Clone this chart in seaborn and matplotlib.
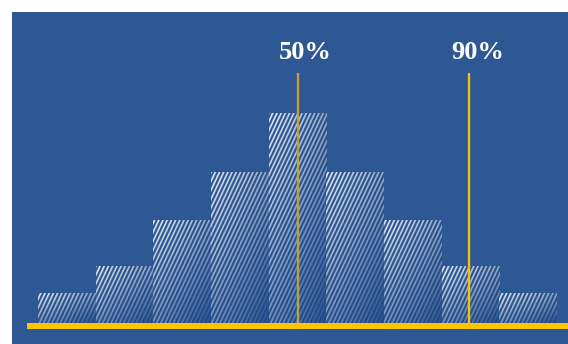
import numpy as np
import matplotlib
matplotlib.use("Agg")
import matplotlib.pyplot as plt
import seaborn as sns

# Histogram bins and their heights
bins = ["1", "2", "3", "4", "5", "6", "7", "8", "9"]
heights = [3.0, 5.7, 10.3, 15.1, 21.0, 15.1, 10.3, 5.7, 3.0]

# Percentile markers (position on the bin axis) and their labels
marker_labels = ["50%", "90%"]
marker_pos = [4.0, 6.98]
marker_top = 25.0

BLUE = np.array([0x2E, 0x58, 0x93]) / 255.0
DARK = np.array([0x16, 0x40, 0x80]) / 255.0
YELLOW = "#FFC400"
LINE_COLORS = ["#BFA03A", "#F7C000"]

sns.set_style("white")

W, H, DPI = 568, 344, 100
fig = plt.figure(figsize=(W / DPI, H / DPI), dpi=DPI, facecolor="white")
ax = fig.add_axes([12 / W, 0, (W - 12) / W, (H - 12) / H])
ax.set_facecolor(BLUE)

sns.barplot(x=bins, y=heights, width=1.0, color="white", saturation=1,
            ax=ax, zorder=2)

XLIM = (-0.951, 8.69)
YLIM = (-2.13, 31.07)
ax.set_xlim(*XLIM)
ax.set_ylim(*YLIM)

# Hatched, fading texture inside each bar
period, slope = 4.2, 0.47
for patch in list(ax.patches):
    patch.set_facecolor("none")
    patch.set_edgecolor("none")
    x0, w, h = patch.get_x(), patch.get_width(), patch.get_height()
    (px0, py0), (px1, py1) = ax.transData.transform([(x0, 0), (x0 + w, h)])
    nw = max(int(round(px1 - px0)), 1)
    nh = max(int(round(py1 - py0)), 1)
    X = px0 + np.arange(nw) + 0.5
    Y = py1 - np.arange(nh) - 0.5          # rows from top down
    XX, YY = np.meshgrid(X, Y)
    u = XX - slope * YY
    stripe = (0.5 + 0.5 * np.cos(2 * np.pi * u / period)) ** 1.4
    xf = (XX - px0) / max(px1 - px0, 1)
    yf = (py1 - YY) / max(py1 - py0, 1)
    bright = np.clip(1.0 - 0.4 * xf - 0.55 * yf, 0.05, 1.0)
    dark = np.clip(0.1 + 0.5 * (0.5 * xf + 0.5 * yf), 0, 0.6)
    base = BLUE[None, None, :] * (1 - dark[..., None]) + DARK[None, None, :] * dark[..., None]
    a = (0.92 * stripe * bright)[..., None]
    rgb = base * (1 - a) + 1.0 * a
    im = ax.imshow(rgb, extent=(x0, x0 + w, 0, h), origin="upper",
                   aspect="auto", interpolation="nearest", zorder=2)
    im.set_clip_path(patch)

ax.set_xlim(*XLIM)
ax.set_ylim(*YLIM)

# Baseline
ax.axhspan(-0.63, 0, xmin=15 / (W - 12), xmax=1, color=YELLOW, lw=0, zorder=3)

# Percentile lines with labels
for lab, xp, col in zip(marker_labels, marker_pos, LINE_COLORS):
    ax.vlines(xp, 0, marker_top, color=col, lw=1.7, zorder=4)
    ax.annotate(lab, xy=(xp, marker_top), xytext=(5.8, 10),
                textcoords="offset points", ha="center", va="baseline",
                color="white", fontsize=19, fontweight="bold",
                family=["Liberation Serif", "DejaVu Serif"])

for s in ax.spines.values():
    s.set_visible(False)
ax.tick_params(left=False, bottom=False, labelleft=False, labelbottom=False)
ax.set_xlabel("")
ax.set_ylabel("")

fig.savefig("out.png", dpi=DPI, facecolor="white")
